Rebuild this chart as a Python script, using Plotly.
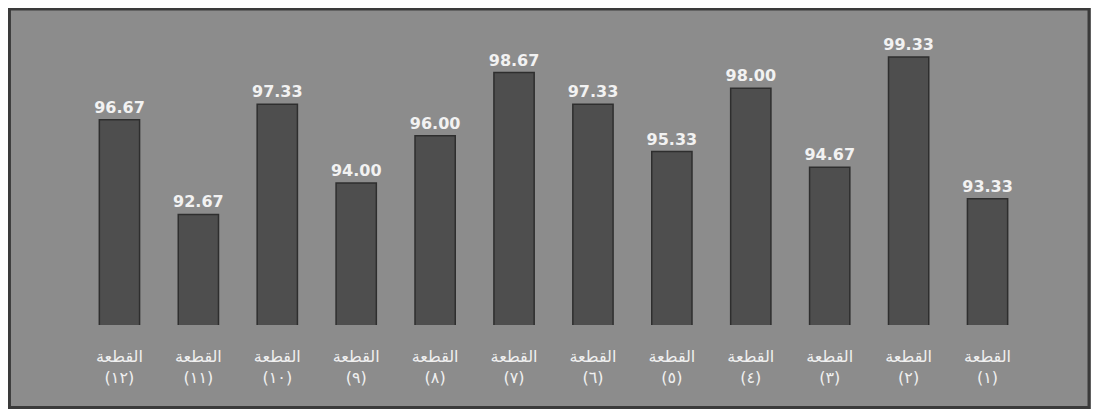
import plotly.graph_objects as go

categories = ["القطعة<br>(١)", "القطعة<br>(٢)", "القطعة<br>(٣)", "القطعة<br>(٤)",
              "القطعة<br>(٥)", "القطعة<br>(٦)", "القطعة<br>(٧)", "القطعة<br>(٨)",
              "القطعة<br>(٩)", "القطعة<br>(١٠)", "القطعة<br>(١١)", "القطعة<br>(١٢)"]
values = [93.33, 99.33, 94.67, 98.00, 95.33, 97.33, 98.67, 96.00, 94.00, 97.33, 92.67, 96.67]
value_labels = [f"<b>{v:.2f}</b>" for v in values]

fig = go.Figure()
fig.add_trace(go.Bar(
    x=categories, y=values, text=value_labels, textposition="outside",
    constraintext="none",
    marker=dict(color="#4e4e4e", line=dict(color="#2e2e2e", width=1.5)),
    textfont=dict(color="#f2f2f2", size=16, family="DejaVu Sans"),
    cliponaxis=False,
))

fig.update_layout(
    width=1083, height=401,
    margin=dict(l=72, r=64, t=7, b=84),
    paper_bgcolor="#8c8c8c", plot_bgcolor="rgba(0,0,0,0)",
    bargap=0.49, showlegend=False,
    shapes=[dict(type="rect", xref="paper", yref="paper",
                 x0=-0.0745, x1=1.0655, y0=-0.266, y1=1.019,
                 fillcolor="rgba(0,0,0,0)", line=dict(color="#3a3a3a", width=3),
                 layer="below")],
    xaxis=dict(autorange="reversed", showgrid=False, zeroline=False, showline=False,
               ticks="", ticklabelstandoff=20,
               tickfont=dict(color="#f0f0f0", size=16, family="DejaVu Sans")),
    yaxis=dict(range=[88, 101.1], visible=False),
)

fig.write_html("out.html")
